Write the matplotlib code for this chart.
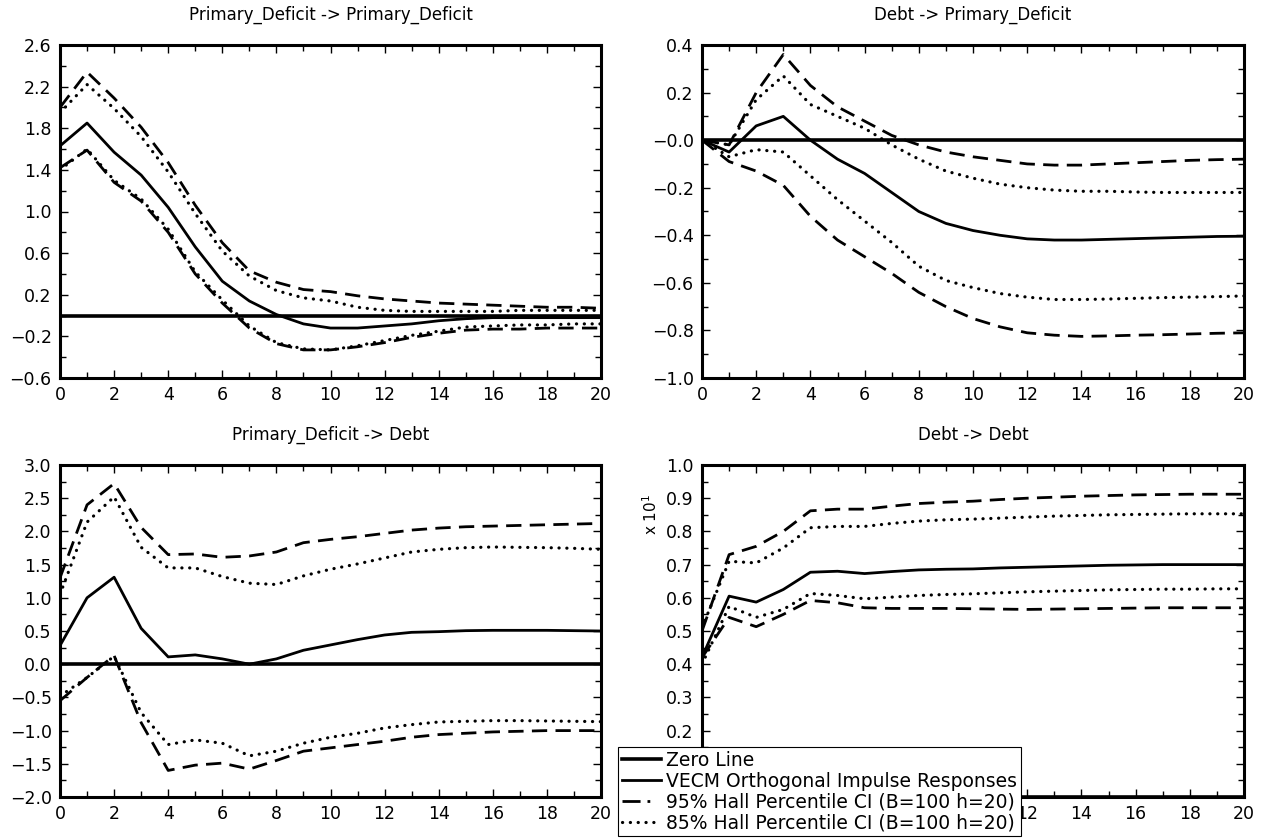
import matplotlib
matplotlib.use("Agg")
import matplotlib.pyplot as plt
from matplotlib.lines import Line2D
from matplotlib.ticker import MultipleLocator

plt.rcParams['font.family'] = ['DejaVu Sans']

# horizon
steps = list(range(21))

# Primary_Deficit -> Primary_Deficit
pd_pd_irf = [1.63, 1.85, 1.57, 1.35, 1.04, 0.66, 0.33, 0.14, 0.01, -0.08, -0.12,
             -0.12, -0.10, -0.08, -0.05, -0.03, -0.02, -0.02, -0.02, -0.02, -0.02]
pd_pd_hi95 = [2.00, 2.34, 2.09, 1.81, 1.47, 1.06, 0.70, 0.43, 0.32, 0.25, 0.23,
              0.19, 0.16, 0.14, 0.12, 0.11, 0.10, 0.09, 0.08, 0.08, 0.07]
pd_pd_lo95 = [1.42, 1.59, 1.28, 1.10, 0.80, 0.40, 0.12, -0.12, -0.27, -0.33, -0.33,
              -0.30, -0.26, -0.21, -0.17, -0.14, -0.13, -0.13, -0.12, -0.12, -0.12]
pd_pd_hi85 = [1.95, 2.22, 1.99, 1.72, 1.38, 0.98, 0.62, 0.38, 0.24, 0.17, 0.14,
              0.08, 0.05, 0.04, 0.04, 0.04, 0.04, 0.05, 0.05, 0.05, 0.05]
pd_pd_lo85 = [1.40, 1.60, 1.30, 1.12, 0.83, 0.42, 0.15, -0.10, -0.26, -0.32, -0.33,
              -0.29, -0.24, -0.19, -0.15, -0.11, -0.10, -0.09, -0.09, -0.08, -0.08]

# Debt -> Primary_Deficit
d_pd_irf = [0.0, -0.05, 0.06, 0.10, 0.0, -0.08, -0.14, -0.22, -0.30, -0.35, -0.38,
            -0.40, -0.415, -0.42, -0.42, -0.417, -0.414, -0.411, -0.408, -0.405, -0.404]
d_pd_hi95 = [0.0, -0.02, 0.20, 0.36, 0.23, 0.14, 0.08, 0.02, -0.02, -0.05, -0.07,
             -0.085, -0.10, -0.105, -0.105, -0.10, -0.095, -0.09, -0.085, -0.082, -0.08]
d_pd_hi85 = [0.0, -0.02, 0.17, 0.27, 0.15, 0.10, 0.05, -0.02, -0.08, -0.13, -0.16,
             -0.185, -0.20, -0.21, -0.215, -0.215, -0.218, -0.22, -0.22, -0.22, -0.22]
d_pd_lo95 = [0.0, -0.09, -0.13, -0.19, -0.32, -0.42, -0.49, -0.56, -0.64, -0.70, -0.75,
             -0.785, -0.81, -0.82, -0.825, -0.823, -0.82, -0.818, -0.815, -0.812, -0.81]
d_pd_lo85 = [0.0, -0.07, -0.04, -0.05, -0.15, -0.25, -0.34, -0.43, -0.53, -0.59, -0.62,
             -0.645, -0.66, -0.67, -0.67, -0.668, -0.665, -0.662, -0.66, -0.658, -0.655]

# Primary_Deficit -> Debt
pd_d_irf = [0.28, 1.00, 1.31, 0.54, 0.11, 0.14, 0.08, 0.0, 0.08, 0.21, 0.29,
            0.37, 0.44, 0.48, 0.49, 0.505, 0.51, 0.51, 0.51, 0.505, 0.50]
pd_d_hi95 = [1.30, 2.40, 2.72, 2.06, 1.65, 1.66, 1.61, 1.63, 1.69, 1.83, 1.88,
             1.92, 1.97, 2.02, 2.05, 2.07, 2.08, 2.09, 2.10, 2.11, 2.12]
pd_d_hi85 = [1.05, 2.14, 2.52, 1.76, 1.45, 1.45, 1.32, 1.22, 1.20, 1.33, 1.43,
             1.51, 1.60, 1.69, 1.73, 1.755, 1.765, 1.76, 1.755, 1.745, 1.73]
pd_d_lo95 = [-0.55, -0.20, 0.13, -0.88, -1.60, -1.52, -1.49, -1.58, -1.45, -1.31, -1.26,
             -1.21, -1.16, -1.10, -1.06, -1.04, -1.02, -1.01, -1.00, -1.00, -1.00]
pd_d_lo85 = [-0.48, -0.20, 0.12, -0.73, -1.21, -1.14, -1.19, -1.38, -1.31, -1.19, -1.10,
             -1.04, -0.96, -0.91, -0.87, -0.86, -0.85, -0.85, -0.855, -0.86, -0.865]

# Debt -> Debt (actual values, shown x 10^1)
d_d_irf = [4.21, 6.05, 5.87, 6.25, 6.77, 6.80, 6.73, 6.79, 6.84, 6.86, 6.87,
           6.90, 6.92, 6.94, 6.96, 6.98, 6.99, 7.00, 7.00, 7.00, 7.00]
d_d_hi95 = [5.00, 7.30, 7.55, 8.00, 8.62, 8.67, 8.67, 8.76, 8.84, 8.88, 8.91,
            8.96, 9.00, 9.03, 9.06, 9.08, 9.10, 9.11, 9.12, 9.12, 9.12]
d_d_hi85 = [5.10, 7.10, 7.05, 7.50, 8.11, 8.15, 8.15, 8.24, 8.31, 8.35, 8.37,
            8.40, 8.43, 8.46, 8.48, 8.50, 8.51, 8.52, 8.53, 8.53, 8.53]
d_d_lo95 = [4.20, 5.41, 5.13, 5.50, 5.92, 5.85, 5.70, 5.68, 5.68, 5.68, 5.67,
            5.66, 5.65, 5.66, 5.67, 5.68, 5.69, 5.70, 5.70, 5.70, 5.70]
d_d_lo85 = [4.00, 5.74, 5.41, 5.65, 6.13, 6.07, 5.97, 6.02, 6.07, 6.10, 6.12,
            6.15, 6.18, 6.20, 6.22, 6.24, 6.25, 6.26, 6.26, 6.27, 6.27]
d_d_scale = 10

titles = ['Primary_Deficit -> Primary_Deficit', 'Debt -> Primary_Deficit',
          'Primary_Deficit -> Debt', 'Debt -> Debt']
legend_labels = ['Zero Line', 'VECM Orthogonal Impulse Responses',
                 '95% Hall Percentile CI (B=100 h=20)',
                 '85% Hall Percentile CI (B=100 h=20)']

W, H = 1266, 840
fig = plt.figure(figsize=(W / 100, H / 100), dpi=100)

# axes boxes in pixels: left, top, right, bottom
boxes = [(60, 45, 601, 378), (702, 45, 1244, 378),
         (60, 465, 601, 797), (702, 465, 1244, 797)]

panels = [
    (pd_pd_irf, pd_pd_hi95, pd_pd_lo95, pd_pd_hi85, pd_pd_lo85, 1),
    (d_pd_irf, d_pd_hi95, d_pd_lo95, d_pd_hi85, d_pd_lo85, 1),
    (pd_d_irf, pd_d_hi95, pd_d_lo95, pd_d_hi85, pd_d_lo85, 1),
    (d_d_irf, d_d_hi95, d_d_lo95, d_d_hi85, d_d_lo85, d_d_scale),
]

# y axis settings: (ymin, ymax, major, minor, labels)
yset = [
    (-0.6, 2.6, 0.4, 0.2, ['\u22120.6', '\u22120.2', '0.2', '0.6', '1.0', '1.4', '1.8', '2.2', '2.6']),
    (-1.0, 0.4, 0.2, 0.1, ['\u22121.0', '\u22120.8', '\u22120.6', '\u22120.4', '\u22120.2', '\u22120.0', '0.2', '0.4']),
    (-2.0, 3.0, 0.5, 0.25, ['\u22122.0', '\u22121.5', '\u22121.0', '\u22120.5', '0.0', '0.5', '1.0', '1.5', '2.0', '2.5', '3.0']),
    (0.0, 1.0, 0.1, 0.05, ['', '', '0.2', '0.3', '0.4', '0.5', '0.6', '0.7', '0.8', '0.9', '1.0']),
]
xlabels = [str(v) for v in range(0, 21, 2)]
# bottom-right: the labels under the legend box are hidden in the original
xlabels_br = [''] * 6 + ['12', '14', '16', '18', '20']

dash95 = (0, (5.5, 3.0))
dot85 = (0, (0.05, 2.4))

for i in range(4):
    l, t, r, b = boxes[i]
    ax = fig.add_axes([l / W, 1 - b / H, (r - l) / W, (b - t) / H])
    irf, hi95, lo95, hi85, lo85, sc = panels[i]
    ymin, ymax, major, minor, labels = yset[i]

    ax.axhline(0, color='black', lw=2.6, zorder=3)
    ax.plot(steps, [v / sc for v in irf], color='black', lw=2.0)
    for s in (hi95, lo95):
        ax.plot(steps, [v / sc for v in s], color='black', lw=2.0, linestyle=dash95)
    for s in (hi85, lo85):
        ax.plot(steps, [v / sc for v in s], color='black', lw=2.3, linestyle=dot85,
                dash_capstyle='round')

    ax.set_xlim(0, 20)
    ax.set_ylim(ymin, ymax)
    ax.set_xticks(range(0, 21, 2))
    ax.set_xticklabels(xlabels_br if i == 3 else xlabels)
    ax.xaxis.set_minor_locator(MultipleLocator(1))
    nt = len(labels)
    ax.set_yticks([ymin + k * major for k in range(nt)])
    ax.set_yticklabels(labels)
    ax.yaxis.set_minor_locator(MultipleLocator(minor))
    ax.tick_params(which='both', direction='in', top=True, right=True, width=1.0,
                   labelsize=12.5, pad=6)
    ax.tick_params(which='major', length=6)
    ax.tick_params(which='minor', length=4)
    for sp in ax.spines.values():
        sp.set_linewidth(2.2)
    ax.set_title(titles[i], fontsize=12, pad=18)

    if i == 3:
        ax.text(-0.094, 0.85, 'x 10$^1$', transform=ax.transAxes, rotation=90,
                ha='center', va='center', fontsize=11)

handles = [
    Line2D([], [], color='black', lw=2.6),
    Line2D([], [], color='black', lw=2.0),
    Line2D([], [], color='black', lw=2.0, linestyle=(0, (6.5, 2.5, 1.0, 10))),
    Line2D([], [], color='black', lw=2.3, linestyle=dot85, dash_capstyle='round'),
]
leg = fig.legend(handles, legend_labels, loc='upper left',
                 bbox_to_anchor=(618 / W, 1 - 747 / H), fontsize=13.5,
                 frameon=True, fancybox=False, framealpha=1, edgecolor='black',
                 handlelength=2.1, handletextpad=0.25, labelspacing=0.1,
                 borderpad=0.2, borderaxespad=0)
leg.get_frame().set_linewidth(0.8)

fig.savefig('out.png', dpi=100)
